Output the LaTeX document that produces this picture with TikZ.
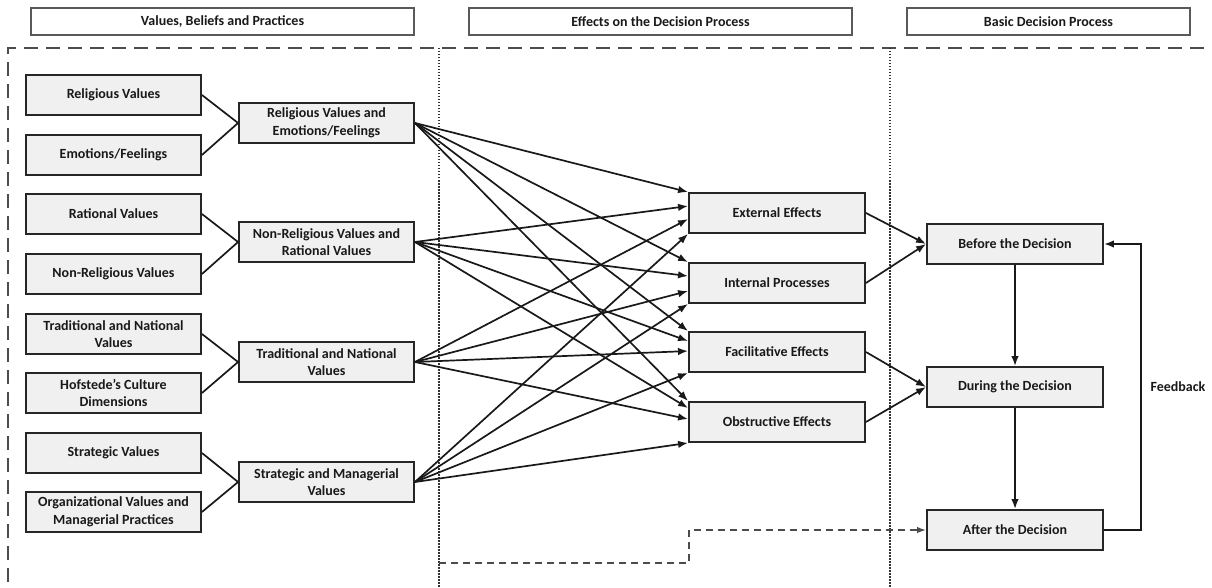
\documentclass[tikz,border=0pt]{standalone}
\usepackage{fontspec}
\setmainfont{Carlito}
\usetikzlibrary{arrows.meta,calc,shadows}
\begin{document}
\begin{tikzpicture}[x=1pt,y=-1pt,
  every node/.style={font=\bfseries\fontsize{14}{17.5}\selectfont, text=black!90},
  box/.style={draw=black!85, line width=1.9pt, fill=gray!12, minimum width=175pt, minimum height=40pt,
    align=center, inner sep=0pt, drop shadow={opacity=0.25, shadow xshift=1.2pt, shadow yshift=-1.2pt}},
  head/.style={draw=black!65, line width=1.3pt, fill=white, minimum height=27pt, inner sep=0pt},
  link/.style={line width=1.7pt, black!90},
  arr/.style={line width=1.7pt, black!90, -{Latex[length=10pt,width=7.5pt]}},
  outerdash/.style={line width=2.2pt, black!70, dash pattern=on 14pt off 8pt},
  sepdot/.style={line width=1.5pt, black!80, dash pattern=on 1.5pt off 1.5pt},
  conndash/.style={line width=1.5pt, black!70, dash pattern=on 7pt off 5pt, -{Latex[length=9pt,width=6.5pt]}}
]
\useasboundingbox (0,0) rectangle (1212,588);

% headers
\node[head, minimum width=383pt] (h1) at (222.5,21.5) {Values, Beliefs and Practices};
\node[head, minimum width=383pt] (h2) at (660.5,21.5) {Effects on the Decision Process};
\node[head, minimum width=283pt] (h3) at (1048.5,21.5) {Basic Decision Process};

% frame lines
\draw[outerdash] (8,582) -- (8,48) -- (1212,48);
\draw[sepdot] (439,48) -- (439,588);
\draw[sepdot] (890,48) -- (890,588);

% left boxes
\node[box] (rv) at (113.5,95) {Religious Values};
\node[box] (ef) at (113.5,155) {Emotions/Feelings};
\node[box] (rav) at (113.5,214) {Rational Values};
\node[box] (nrv) at (113.5,274) {Non-Religious Values};
\node[box] (tn) at (113.5,334) {Traditional and National\\Values};
\node[box] (hc) at (113.5,393) {Hofstede's Culture\\Dimensions};
\node[box] (sv) at (113.5,453) {Strategic Values};
\node[box] (ov) at (113.5,512) {Organizational Values and\\Managerial Practices};

% middle boxes
\node[box] (m1) at (326.5,123) {Religious Values and\\Emotions/Feelings};
\node[box] (m2) at (326.5,242) {Non-Religious Values and\\Rational Values};
\node[box] (m3) at (326.5,362) {Traditional and National\\Values};
\node[box] (m4) at (326.5,482) {Strategic and Managerial\\Values};

% effects boxes
\node[box, minimum width=176pt] (e1) at (777,213) {External Effects};
\node[box, minimum width=176pt] (e2) at (777,283) {Internal Processes};
\node[box, minimum width=176pt] (e3) at (777,352) {Facilitative Effects};
\node[box, minimum width=176pt] (e4) at (777,422) {Obstructive Effects};

% decision boxes
\node[box, minimum width=176pt] (d1) at (1015,244) {Before the Decision};
\node[box, minimum width=176pt] (d2) at (1015,387) {During the Decision};
\node[box, minimum width=176pt] (d3) at (1015,530) {After the Decision};

\node (fbl) at (1178,387) {Feedback};

% left links
\draw[link] (rv.east) -- (m1.west);
\draw[link] (ef.east) -- (m1.west);
\draw[link] (rav.east) -- (m2.west);
\draw[link] (nrv.east) -- (m2.west);
\draw[link] (tn.east) -- (m3.west);
\draw[link] (hc.east) -- (m3.west);
\draw[link] (sv.east) -- (m4.west);
\draw[link] (ov.east) -- (m4.west);

% middle to effects
\draw[arr] (m1.east) -- (e1.north west);
\draw[arr] (m2.east) -- ($(e1.north west)+(0,14)$);
\draw[arr] (m3.east) -- ($(e1.north west)+(0,27)$);
\draw[arr] (m4.east) -- (e1.south west);

\draw[arr] (m1.east) -- (e2.north west);
\draw[arr] (m2.east) -- ($(e2.north west)+(0,14)$);
\draw[arr] (m3.east) -- ($(e2.north west)+(0,29)$);
\draw[arr] (m4.east) -- (e2.south west);

\draw[arr] (m1.east) -- (e3.north west);
\draw[arr] (m2.east) -- ($(e3.north west)+(0,10)$);
\draw[arr] (m3.east) -- ($(e3.north west)+(0,20)$);
\draw[arr] (m4.east) -- (e3.south west);

\draw[arr] (m1.east) -- (e4.north west);
\draw[arr] (m2.east) -- ($(e4.north west)+(0,7)$);
\draw[arr] (m3.east) -- ($(e4.north west)+(0,18)$);
\draw[arr] (m4.east) -- (e4.south west);

% effects to decision
\draw[arr] (e1.east) -- (d1.west);
\draw[arr] (e2.east) -- (d1.west);
\draw[arr] (e3.east) -- (d2.west);
\draw[arr] (e4.east) -- (d2.west);

\draw[arr] (d1.south) -- (d2.north);
\draw[arr] (d2.south) -- (d3.north);

% feedback
\draw[arr] (d3.east) -- ++(37,0) |- (d1.east);

% dashed connector
\coordinate (ds) at (439,563);
\draw[conndash] (ds) -- ++(250,0) |- (d3.west);
\end{tikzpicture}
\end{document}
